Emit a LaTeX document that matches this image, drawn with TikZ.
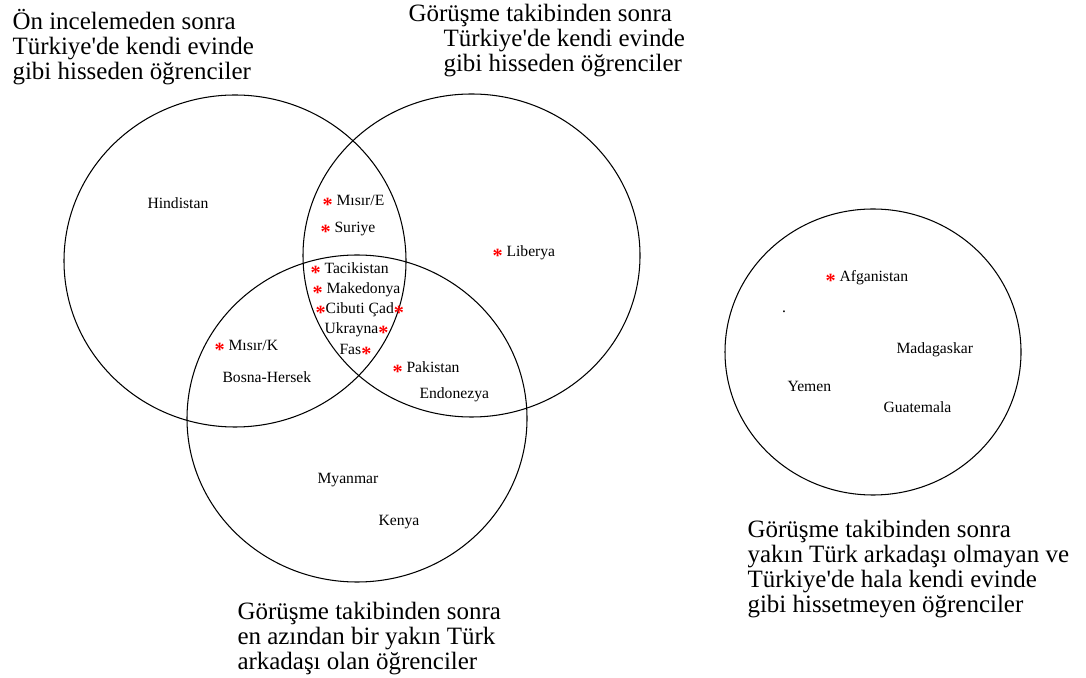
\documentclass[tikz,border=0pt]{standalone}
\usepackage{fontspec}
\setmainfont{Liberation Serif}
\usepackage{tikz}
\usetikzlibrary{shapes.geometric}

\newcommand{\yld}{\raisebox{-0.34em}[0pt][0pt]{\fontsize{11.5}{11.5}\selectfont\textcolor{red}{\textbf{*}}}}
\newcommand{\tq}{\textquotesingle}

\begin{document}
\begin{tikzpicture}[line width=0.6pt,
    ring/.style={ellipse, draw, inner sep=0pt},
    ctry/.style={anchor=base west, inner sep=0pt, font=\fontsize{8.9}{10}\selectfont},
    baslik/.style={anchor=north west, align=left, inner sep=0pt, font=\fontsize{14.2}{14.2}\selectfont}]
  \useasboundingbox (0,0) rectangle (21.72,13.54);
  % the three overlapping sets and the lone one
  \node[ring, minimum width=6.84cm, minimum height=6.64cm] (onc) at (4.70, 8.32) {};
  \node[ring, minimum width=6.74cm, minimum height=6.46cm] (gor) at (9.43, 8.43) {};
  \node[ring, minimum width=6.80cm, minimum height=6.54cm] (ark) at (7.14, 5.17) {};
  \node[ring, minimum width=5.92cm, minimum height=5.72cm] (yok) at (17.46, 6.50) {};
  % set titles
  \node[baslik] (bonc) at (0.24, 13.36)
    {Ön incelemeden sonra\\ Türkiye\tq de kendi evinde\\ gibi hisseden öğrenciler};
  \node[baslik] (bgor) at (8.16, 13.46)
    {Görüşme takibinden sonra\\ \hspace*{0.70cm}Türkiye\tq de kendi evinde\\ \hspace*{0.70cm}gibi hisseden öğrenciler};
  \node[baslik] (bark) at (4.74, 1.51)
    {Görüşme takibinden sonra\\ en azından bir yakın Türk\\ arkadaşı olan öğrenciler};
  \node[baslik] (byok) at (14.94, 3.14)
    {Görüşme takibinden sonra\\ yakın Türk arkadaşı olmayan ve\\ Türkiye\tq de hala kendi evinde\\ gibi hissetmeyen öğrenciler};
  % countries (placed by baseline)
  \node[ctry] (hin) at (2.94, 9.36) {Hindistan};
  \node[ctry] (mise) at (6.44, 9.42) {\yld~Mısır/E};
  \node[ctry] (sur) at (6.40, 8.88) {\yld~Suriye};
  \node[ctry] (lib) at (9.84, 8.40) {\yld~Liberya};
  \node[ctry] (tac) at (6.20, 8.06) {\yld~Tacikistan};
  \node[ctry] (mak) at (6.24, 7.66) {\yld~Makedonya};
  \node[ctry] (cib) at (6.30, 7.26) {\yld Cibuti Çad\yld};
  \node[ctry] (ukr) at (6.48, 6.86) {Ukrayna\yld};
  \node[ctry] (fas) at (6.78, 6.44) {Fas\yld};
  \node[ctry] (misk) at (4.28, 6.52) {\yld~Mısır/K};
  \node[ctry] (bos) at (4.44, 5.88) {Bosna-Hersek};
  \node[ctry] (pak) at (7.84, 6.08) {\yld~Pakistan};
  \node[ctry] (end) at (8.38, 5.56) {Endonezya};
  \node[ctry] (mya) at (6.34, 3.86) {Myanmar};
  \node[ctry] (ken) at (7.56, 3.04) {Kenya};
  \node[ctry] (afg) at (16.50, 7.90) {\yld~Afganistan};
  \node[ctry] (nokta) at (15.63, 7.28) {.};
  \node[ctry] (mad) at (17.92, 6.46) {Madagaskar};
  \node[ctry] (yem) at (15.74, 5.70) {Yemen};
  \node[ctry] (gua) at (17.66, 5.28) {Guatemala};
\end{tikzpicture}
\end{document}
